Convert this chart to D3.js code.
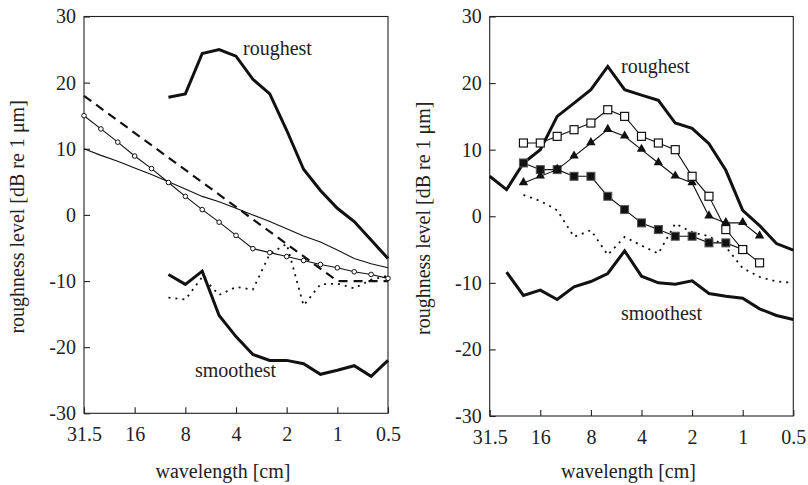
<!DOCTYPE html>
<html>
<head>
<meta charset="utf-8">
<script src="https://cdn.jsdelivr.net/npm/d3@7"></script>
<style>
  html, body { margin: 0; padding: 0; background: #fff; }
  svg { display: block; }
  text { font-family: "Liberation Serif", "DejaVu Serif", serif; fill: #222; }
</style>
</head>
<body>
<svg id="chart" width="808" height="485"></svg>
<script>
// third-octave wavelength bands [cm]
const bands = ["31.5","25","20","16","12.5","10","8","6.3","5","4","3.15","2.5","2","1.6","1.25","1","0.8","0.63","0.5"];
const xTickLabels = ["31.5","16","8","4","2","1","0.5"];
const yTicks = [-30,-20,-10,0,10,20,30];

// left panel
const leftRoughest  = [null,null,null,null,null,17.8,18.3,24.4,25,24,20.5,18.3,12.8,6.9,3.7,1,-1,-3.8,-6.6];
const leftSmoothest = [null,null,null,null,null,-9,-10.5,-8.5,-15.2,-18.4,-21.1,-22,-22,-22.5,-24.1,-23.5,-22.8,-24.4,-22];
const leftDashed    = [18,null,null,null,null,null,null,null,null,null,null,null,null,null,null,-10,null,null,-10];
const leftThin      = [10,9,8.1,7.1,6.1,5.0,3.9,2.8,2.0,1.0,0,-1.0,-2.1,-3.2,-4.1,-5.3,-6.6,-7.4,-8.0];
const leftCircles   = [15,13,11,8.9,7,4.9,2.8,0.8,-1.1,-3.1,-5.1,-5.7,-6.3,-6.9,-7.5,-8.0,-8.6,-9.0,-9.6];
const leftDotted    = [null,null,null,null,null,-12.5,-12.8,-9.4,-12.1,-10.9,-11.3,-5.9,-4.4,-13.7,-10.5,-10.4,-11.1,-9.8,-9.2];

// right panel
const rightRoughest  = [6,4,8,10,15,17,19,22.5,19,18.2,17.4,14,13.2,10.9,6.9,0.9,-1.4,-4.1,-5.1];
const rightOpenSq    = [null,null,11,11,12,13,14,16,15,12,11,10,6,3,-2,-5,-7,null,null];
const rightTriangles = [null,null,5,6,7,9,11,13,12,10,8,6,5,0,-1,-1,-3,null,null];
const rightFilledSq  = [null,null,8,7,7,6,6,3,1,-1,-2,-3,-3,-4,-4,-5,null,null,null];
const rightDotted    = [null,null,3.2,2.3,0.9,-3.1,-2.1,-5.8,-3.1,-4.4,-5.6,-1.1,-2.4,-3.0,-4.6,-7.8,-9.1,-9.8,-10];
const rightSmoothest = [null,-8.4,-11.9,-11.1,-12.5,-10.6,-9.8,-8.6,-5.2,-9,-10,-10.2,-9.7,-11.6,-12,-12.3,-13.9,-14.9,-15.5];

const svg = d3.select("#chart");

function panel(cfg) {
  const g = svg.append("g");
  const x = d3.scalePoint().domain(bands).range([cfg.left, cfg.right]);
  const y = d3.scaleLinear().domain([-30, 30]).range([cfg.bottom, cfg.top]);

  // frame
  g.append("rect")
    .attr("x", cfg.left).attr("y", cfg.top)
    .attr("width", cfg.right - cfg.left).attr("height", cfg.bottom - cfg.top)
    .attr("fill", "none").attr("stroke", "#222").attr("stroke-width", 1.1);

  // x axis (ticks inward)
  const xa = g.append("g").attr("transform", `translate(0,${cfg.bottom})`)
    .call(d3.axisBottom(x).tickValues(xTickLabels).tickSizeInner(-6).tickSizeOuter(0).tickPadding(14));
  xa.select(".domain").remove();
  xa.selectAll("line").attr("stroke", "#222").attr("stroke-width", 1.1);
  xa.selectAll("text").attr("font-size", 20).attr("fill", "#222")
    .attr("font-family", "Liberation Serif, serif").attr("dy", "0.71em");

  // y axis (ticks inward)
  const ya = g.append("g").attr("transform", `translate(${cfg.left},0)`)
    .call(d3.axisLeft(y).tickValues(yTicks).tickFormat(d => String(d)).tickSizeInner(-6).tickSizeOuter(0).tickPadding(8));
  ya.select(".domain").remove();
  ya.selectAll("line").attr("stroke", "#222").attr("stroke-width", 1.1);
  ya.selectAll("text").attr("font-size", 20).attr("fill", "#222")
    .attr("font-family", "Liberation Serif, serif");

  // titles
  g.append("text").attr("x", (cfg.left + cfg.right) / 2 - 13).attr("y", 478)
    .attr("text-anchor", "middle").attr("font-size", 20).text("wavelength [cm]");
  g.append("text")
    .attr("transform", `translate(${cfg.left - 60},${(cfg.top + cfg.bottom) / 2 + 2}) rotate(-90)`)
    .attr("text-anchor", "middle").attr("font-size", 20).text("roughness level [dB re 1 μm]");

  const line = d3.line().x(d => x(d.b)).y(d => y(d.v));
  function series(vals, style) {
    const pts = bands.map((b, i) => ({ b, v: vals[i] })).filter(d => d.v !== null);
    g.append("path").datum(pts).attr("d", line)
      .attr("fill", "none").attr("stroke", "#111")
      .attr("stroke-width", style.w).attr("stroke-dasharray", style.dash || null)
      .attr("stroke-linejoin", "miter").attr("stroke-linecap", style.cap || "butt");
    return pts;
  }
  return { g, x, y, series };
}

// ----- Left panel -----
const L = panel({ left: 84, right: 388, top: 16.5, bottom: 413.3 });
L.series(leftThin, { w: 1.1 });
L.series(leftDashed, { w: 2.2, dash: "9,6" });
L.series(leftDotted, { w: 1.8, dash: "2,5" });
const lc = L.series(leftCircles, { w: 1.1 });
L.g.selectAll("circle.m").data(lc).enter().append("circle")
  .attr("cx", d => L.x(d.b)).attr("cy", d => L.y(d.v)).attr("r", 2.3)
  .attr("fill", "#fff").attr("stroke", "#111").attr("stroke-width", 1);
L.series(leftRoughest, { w: 3 });
L.series(leftSmoothest, { w: 3 });
L.g.append("text").attr("x", 243).attr("y", 55).attr("font-size", 20).text("roughest");
L.g.append("text").attr("x", 195).attr("y", 377).attr("font-size", 20).text("smoothest");

// ----- Right panel -----
const R = panel({ left: 489.7, right: 793.3, top: 16.5, bottom: 416 });
R.series(rightDotted, { w: 1.8, dash: "2,5" });
R.series(rightRoughest, { w: 3 });
R.series(rightSmoothest, { w: 3 });
const fs = R.series(rightFilledSq, { w: 1.1 });
R.g.selectAll("rect.fs").data(fs).enter().append("rect")
  .attr("x", d => R.x(d.b) - 4).attr("y", d => R.y(d.v) - 4).attr("width", 8).attr("height", 8)
  .attr("fill", "#111").attr("stroke", "#555").attr("stroke-width", 1);
const tr = R.series(rightTriangles, { w: 1.1 });
const triSym = d3.symbol().type(d3.symbolTriangle).size(38);
R.g.selectAll("path.tr").data(tr).enter().append("path")
  .attr("d", triSym).attr("transform", d => `translate(${R.x(d.b)},${R.y(d.v) - 0.5})`)
  .attr("fill", "#111");
const os = R.series(rightOpenSq, { w: 1.1 });
R.g.selectAll("rect.os").data(os).enter().append("rect")
  .attr("x", d => R.x(d.b) - 4).attr("y", d => R.y(d.v) - 4).attr("width", 8).attr("height", 8)
  .attr("fill", "#fff").attr("stroke", "#111").attr("stroke-width", 1.2);
R.g.append("text").attr("x", 621).attr("y", 73).attr("font-size", 20).text("roughest");
R.g.append("text").attr("x", 621).attr("y", 320).attr("font-size", 20).text("smoothest");
</script>
</body>
</html>
